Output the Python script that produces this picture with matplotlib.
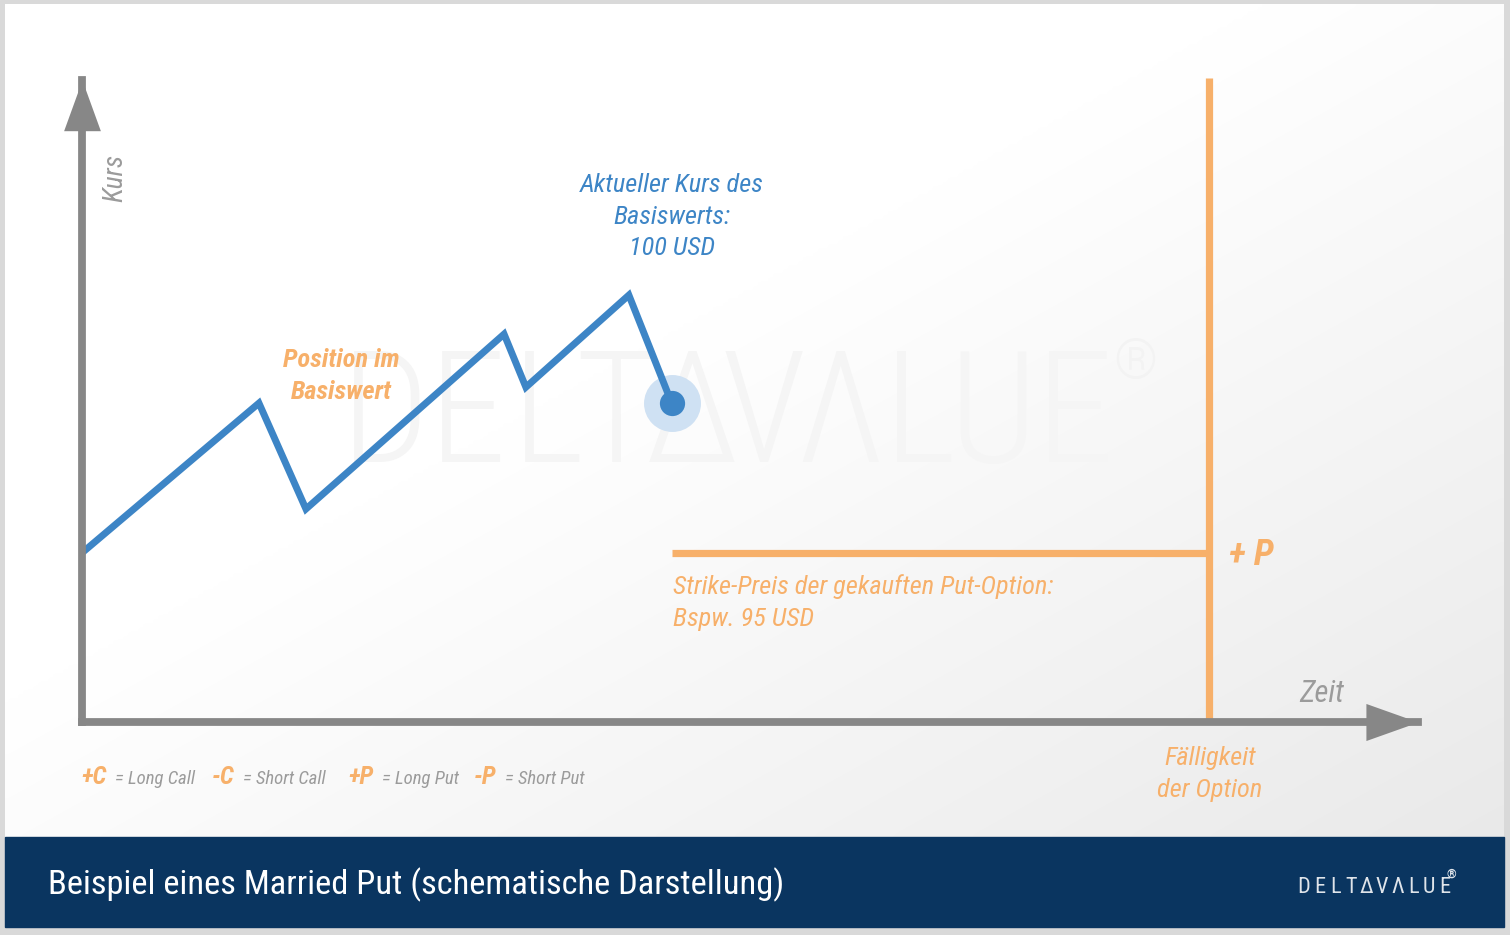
import numpy as np
import matplotlib
matplotlib.use('Agg')
import matplotlib.pyplot as plt
from matplotlib.patches import Rectangle

# data: schematic price path of the underlying (time in days, price in USD)
zeit = [0.1, 4.72, 5.97, 11.24, 11.82, 14.56, 15.7]
kurs = [95.1, 100.0, 96.47, 102.3, 100.53, 103.6, 100.0]
strike = 95.0
faelligkeit = 30.0
legend_codes = ['+C', '-C', '+P', '-P']
legend_names = ['= Long Call', '= Short Call', '= Long Put', '= Short Put']

BLUE = '#3d85c6'
HALO = '#cfe1f3'
ORANGE = '#f7b06a'
GRAY = '#878787'
TEXTGRAY = '#9b9b9b'
NAVY = '#0a3560'
FONT = ['Roboto Condensed', 'Roboto', 'DejaVu Sans']

W, H = 1510, 935
fig = plt.figure(figsize=(W / 100, H / 100), dpi=100)

# background axes in pixel coordinates
bg = fig.add_axes([0, 0, 1, 1])
bg.set_xlim(0, W)
bg.set_ylim(H, 0)
bg.axis('off')

bg.add_patch(Rectangle((0, 0), W, H, color='#d9d9d9', zorder=0))
xx, yy = np.meshgrid(np.linspace(0, 1, 300), np.linspace(0, 1, 200))
grad = np.clip((xx + yy - 0.85) / 1.15, 0, 1)
shade = 1 - 0.085 * grad
img = np.dstack([shade, shade, shade])
bg.imshow(img, extent=(5, 1504, 837, 4), aspect='auto', zorder=1, interpolation='bicubic')
bg.add_patch(Rectangle((5, 837), 1499, 90, color=NAVY, zorder=2))

# watermark
wm_letters = ['D', 'E', 'L', 'T', 'Δ', 'V', 'Λ', 'L', 'U', 'E']
wm_x = [385, 468, 548, 616, 692, 764, 840, 920, 993, 1075]
for ch, x in zip(wm_letters, wm_x):
    bg.text(x, 462, ch, ha='center', va='baseline', fontsize=112, family=FONT,
            weight='light', color='#f5f5f5', zorder=3)
bg.text(1135, 378, '®', ha='center', va='baseline', fontsize=40, family=FONT,
        weight='light', color='#f3f3f3', zorder=3)


def lines(x, baselines, texts, **kw):
    for y, t in zip(baselines, texts):
        bg.text(x, y, t, va='baseline', family=FONT, zorder=5, **kw)


lines(672, [192, 223.5, 255], ['Aktueller Kurs des', 'Basiswerts:', '100 USD'],
      ha='center', fontsize=19, style='italic', color=BLUE)
lines(341, [367, 399], ['Position im', 'Basiswert'],
      ha='center', fontsize=19, style='italic', weight='bold', color=ORANGE)
lines(673, [594, 626], ['Strike-Preis der gekauften Put-Option:', 'Bspw. 95 USD'],
      ha='left', fontsize=19, style='italic', color=ORANGE)
lines(1210, [765, 797], ['Fälligkeit', 'der Option'],
      ha='center', fontsize=19, style='italic', color=ORANGE)
bg.text(1229, 565, '+ P', va='baseline', ha='left', fontsize=26, style='italic',
        weight='bold', color=ORANGE, family=FONT, zorder=5)
bg.text(1322, 702, 'Zeit', va='baseline', ha='center', fontsize=22, style='italic',
        color=TEXTGRAY, family=FONT, zorder=5)
bg.text(115, 178, 'Kurs', va='center', ha='center', rotation=90, fontsize=20,
        style='italic', color=TEXTGRAY, family=FONT, zorder=5)

# legend of abbreviations
code_x = [81, 212, 348, 474]
name_x = [115, 243, 382, 505]
for c, n, cx, nx in zip(legend_codes, legend_names, code_x, name_x):
    bg.text(cx, 784, c, va='baseline', ha='left', fontsize=18, style='italic',
            weight='bold', color=ORANGE, family=FONT, zorder=5)
    bg.text(nx, 784, n, va='baseline', ha='left', fontsize=13.5, style='italic',
            color=TEXTGRAY, family=FONT, zorder=5)

# footer
bg.text(48, 894, 'Beispiel eines Married Put (schematische Darstellung)', va='baseline',
        ha='left', fontsize=24.8, color='white', family=FONT, zorder=5)
logo_letters = ['D', 'E', 'L', 'T', 'Δ', 'V', 'Λ', 'L', 'U', 'E']
for i, ch in enumerate(logo_letters):
    bg.text(1304 + i * 15.6, 893, ch, va='baseline', ha='center', fontsize=16,
            family=FONT, color='#dfe4ea', zorder=5)
bg.text(1451, 878, '®', va='baseline', ha='center', fontsize=9, weight='bold',
        family=FONT, color='#dfe4ea', zorder=5)

# chart axes: origin at (81.5, 722) px, top at 80 px, right at 1418 px
left, right, top, bottom = 81.5, 1418, 80, 722
ax = fig.add_axes([left / W, 1 - bottom / H, (right - left) / W, (bottom - top) / H])
ax.patch.set_alpha(0)
ax.set_xlim(0, 35.55)
ax.set_ylim(89.37, 110.77)
ax.set_xticks([])
ax.set_yticks([])
for s in ['top', 'right']:
    ax.spines[s].set_visible(False)
for s in ['left', 'bottom']:
    ax.spines[s].set_color(GRAY)
    ax.spines[s].set_linewidth(5.6)
    ax.spines[s].set_capstyle('projecting')
    ax.spines[s].set_zorder(6)

# arrow heads
ax.plot(1, 0, marker=[(0, 0), (-52, 18.5), (-52, -18.5)], markersize=75, color=GRAY,
        markeredgewidth=0, transform=ax.transAxes, clip_on=False, zorder=7)
ax.plot(0, 1, marker=[(0, 0), (-18.5, -51), (18.5, -51)], markersize=73, color=GRAY,
        markeredgewidth=0, transform=ax.transAxes, clip_on=False, zorder=7)

# expiry and strike
ax.plot([faelligkeit, faelligkeit], [89.37, 110.85], color=ORANGE, lw=5.2,
        solid_capstyle='butt', clip_on=False, zorder=3)
ax.plot([zeit[-1], faelligkeit], [strike, strike], color=ORANGE, lw=5.2,
        solid_capstyle='butt', zorder=3)

# price path
ax.plot(zeit, kurs, color=BLUE, lw=5.0, solid_joinstyle='miter', zorder=4)
ax.scatter([zeit[-1]], [kurs[-1]], s=1681, color=HALO, zorder=3.5, linewidths=0)
ax.scatter([zeit[-1]], [kurs[-1]], s=330, color=BLUE, zorder=5, linewidths=0)

fig.savefig('out.png', dpi=100)
